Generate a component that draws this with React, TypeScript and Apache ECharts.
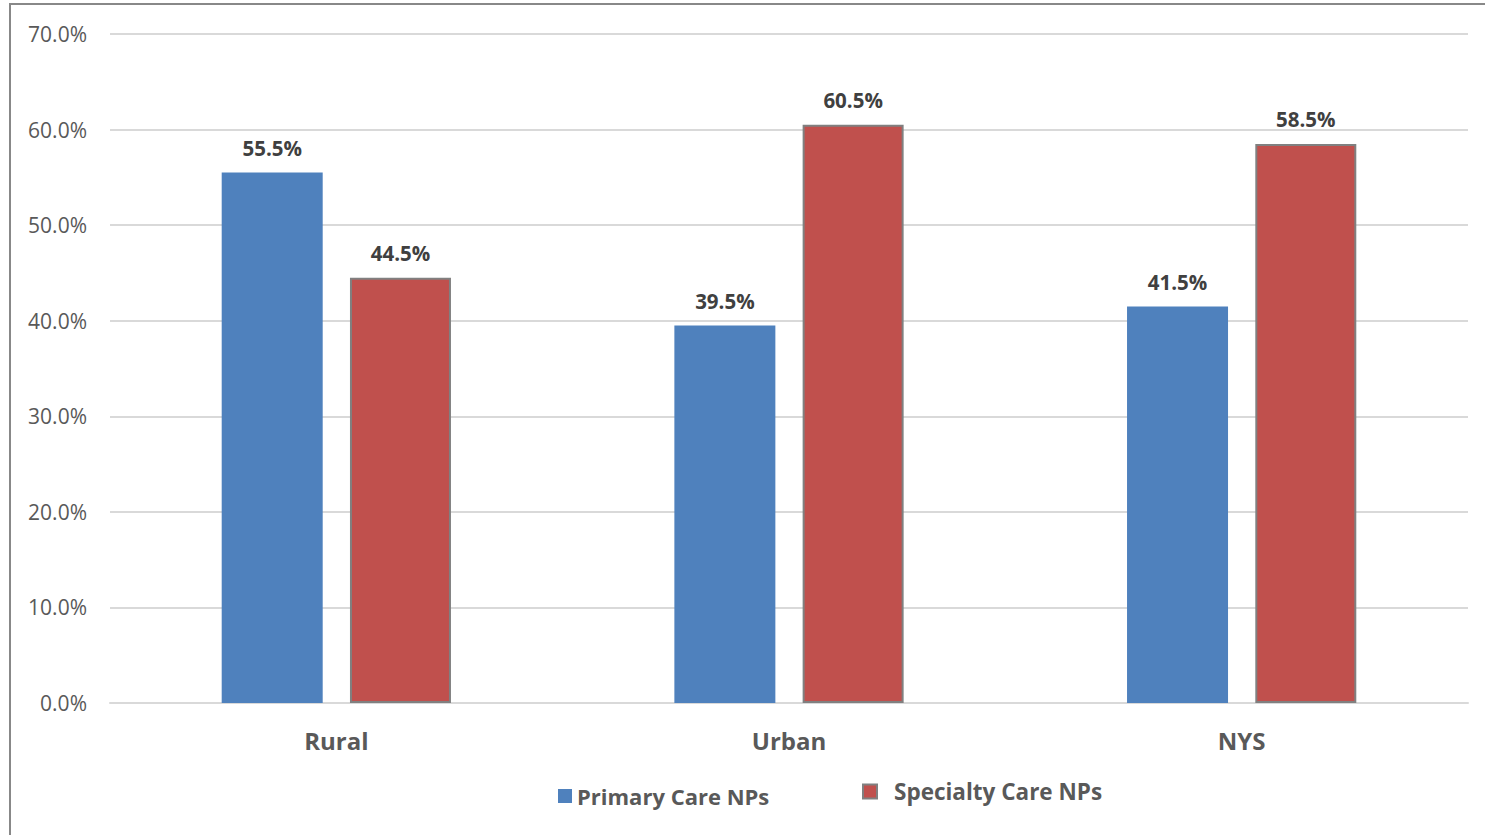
import React, { useEffect, useRef } from "react";
import * as echarts from "echarts";

const categories = ["Rural", "Urban", "NYS"];
const primaryCare = [55.5, 39.5, 41.5];
const specialtyCare = [44.5, 60.5, 58.5];
const seriesNames = ["Primary Care NPs", "Specialty Care NPs"];

const FONT = "'Open Sans', 'Noto Sans', sans-serif";

export default function App() {
  const ref = useRef<HTMLDivElement>(null);
  useEffect(() => {
    if (!ref.current) return;
    const chart = echarts.init(ref.current, null, { renderer: "svg" });
    const labelCfg = {
      show: true,
      position: "top",
      distance: 14,
      formatter: (p: any) => p.value.toFixed(1) + "%",
      color: "#404040",
      fontFamily: FONT,
      fontWeight: "bold",
      fontSize: 20.5,
    };
    chart.setOption({
      animation: false,
      backgroundColor: "#ffffff",
      graphic: [
        {
          type: "rect",
          shape: { x: 10, y: 4, width: 1500, height: 900 },
          style: { fill: "none", stroke: "#888888", lineWidth: 2 },
          silent: true,
        },
      ],
      grid: { left: 110, right: 17, top: 34, bottom: 132, containLabel: false },
      legend: [
        {
          data: [seriesNames[0]],
          icon: "rect",
          left: 553,
          top: 780,
          itemWidth: 14,
          itemHeight: 14,
          itemGap: 8,
          textStyle: { fontFamily: FONT, fontWeight: "bold", fontSize: 22, color: "#595959" },
        },
        {
          data: [seriesNames[1]],
          icon: "rect",
          left: 857,
          top: 775,
          itemWidth: 14,
          itemHeight: 14,
          textStyle: {
            fontFamily: FONT,
            fontWeight: "bold",
            fontSize: 22.5,
            color: "#595959",
            padding: [0, 0, 0, 12],
          },
        },
      ],
      xAxis: {
        type: "category",
        data: categories,
        axisLine: { show: true, lineStyle: { color: "#d9d9d9", width: 2 } },
        axisTick: { show: false },
        axisLabel: {
          margin: 25,
          fontFamily: FONT,
          fontWeight: "bold",
          fontSize: 24,
          color: "#595959",
        },
      },
      yAxis: {
        type: "value",
        min: 0,
        max: 70,
        interval: 10,
        axisLine: { show: false },
        axisTick: { show: false },
        splitLine: { lineStyle: { color: "#d9d9d9", width: 2 } },
        axisLabel: {
          margin: 23,
          formatter: (v: number) => v.toFixed(1) + "%",
          fontFamily: FONT,
          fontSize: 21,
          color: "#595959",
        },
      },
      series: [
        {
          name: seriesNames[0],
          type: "bar",
          data: primaryCare,
          barWidth: 101,
          barGap: "27%",
          itemStyle: { color: "#4F81BD" },
          label: labelCfg,
        },
        {
          name: seriesNames[1],
          type: "bar",
          data: specialtyCare,
          barWidth: 101,
          itemStyle: { color: "#C0504D", borderColor: "#808080", borderWidth: 2 },
          label: labelCfg,
        },
      ],
    });
    return () => chart.dispose();
  }, []);
  return (
    <div
      ref={ref}
      style={{ position: "fixed", left: 0, top: 0, width: 1485, height: 835, background: "#fff" }}
    />
  );
}
